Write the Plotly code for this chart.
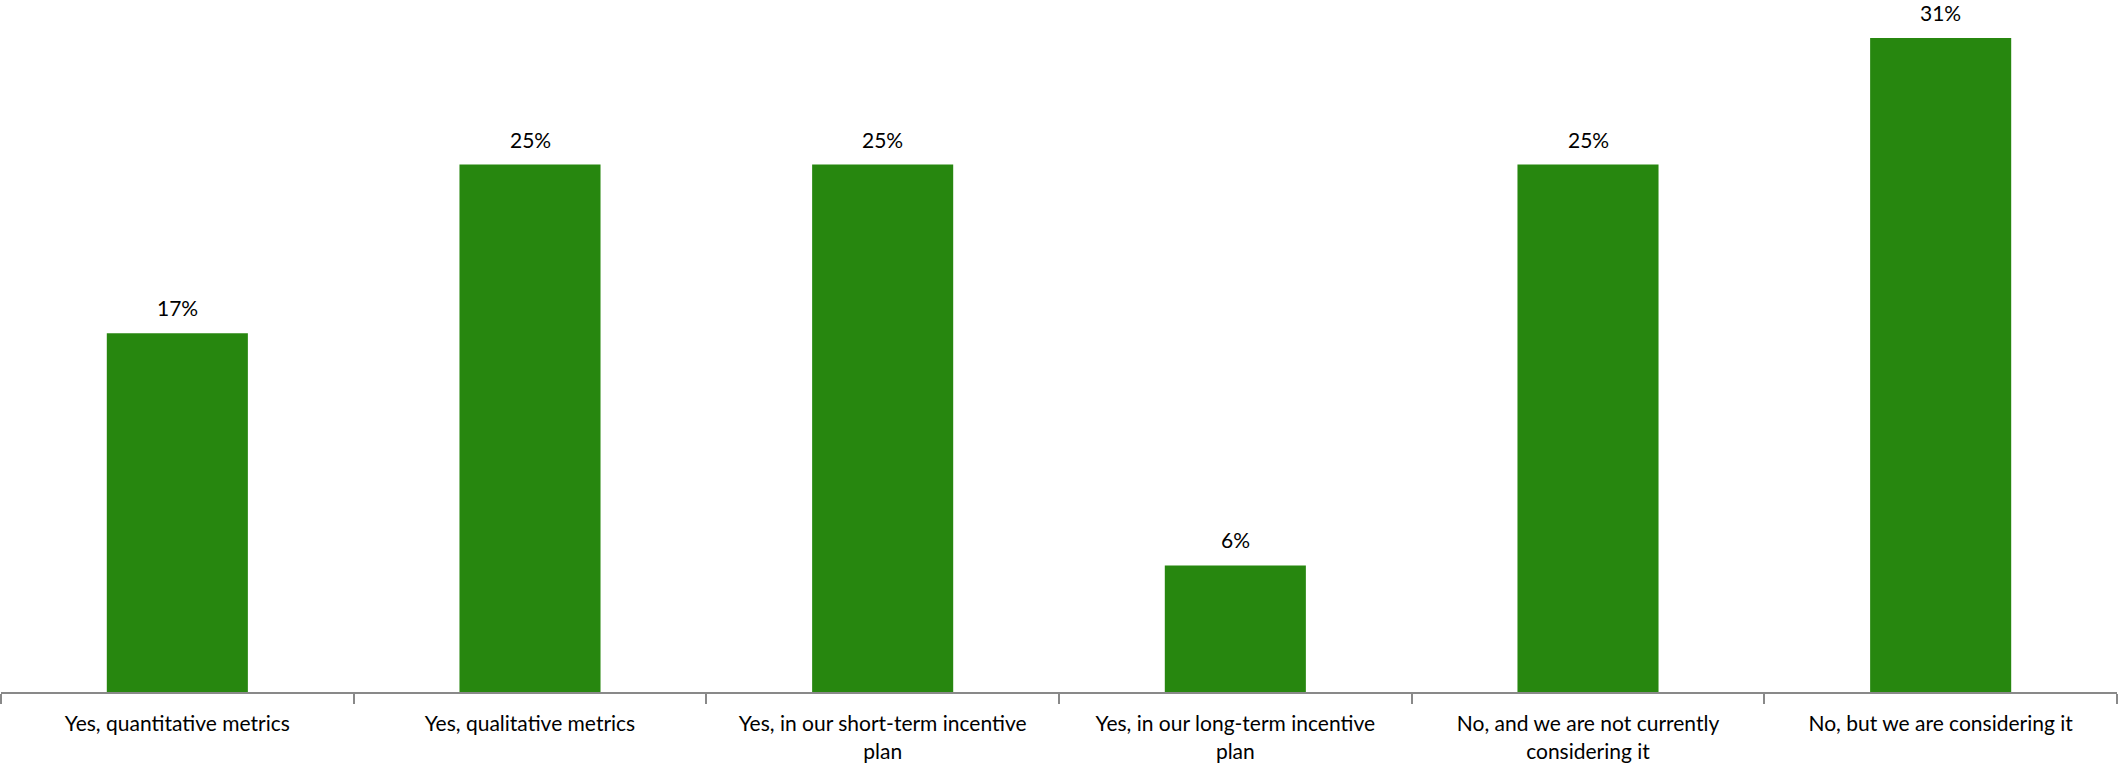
import plotly.graph_objects as go

categories = [
    "Yes, quantitative metrics",
    "Yes, qualitative metrics",
    "Yes, in our short-term incentive<br>plan",
    "Yes, in our long-term incentive<br>plan",
    "No, and we are not currently<br>considering it",
    "No, but we are considering it",
]
values = [17, 25, 25, 6, 25, 31]
labels = [f"{v}%" for v in values]

FONT = "Lato, 'Open Sans', sans-serif"
GREEN = "#27870F"
AXIS_GREY = "#898989"

fig = go.Figure(
    go.Bar(
        x=categories,
        y=values,
        marker=dict(color=GREEN, line=dict(width=0)),
        hoverinfo="skip",
    )
)

# value labels sitting above each bar
for cat, val, lab in zip(categories, values, labels):
    fig.add_annotation(
        x=cat,
        y=val,
        text=lab,
        showarrow=False,
        yanchor="bottom",
        yshift=11,
        font=dict(family=FONT, size=21, color="#000000"),
    )

fig.update_layout(
    width=2118,
    height=768,
    margin=dict(l=1, r=1, t=0, b=76),
    paper_bgcolor="#FFFFFF",
    plot_bgcolor="#FFFFFF",
    bargap=0.6,
    showlegend=False,
    font=dict(family=FONT, size=21, color="#000000"),
    xaxis=dict(
        showline=True,
        linecolor=AXIS_GREY,
        linewidth=2,
        ticks="outside",
        tickson="boundaries",
        ticklen=10,
        tickwidth=2,
        tickcolor=AXIS_GREY,
        ticklabelstandoff=12,
        showgrid=False,
        tickfont=dict(family=FONT, size=21, color="#000000"),
    ),
    yaxis=dict(
        range=[0, 32.8],
        visible=False,
        showgrid=False,
        zeroline=False,
    ),
)

fig.write_html("out.html")
